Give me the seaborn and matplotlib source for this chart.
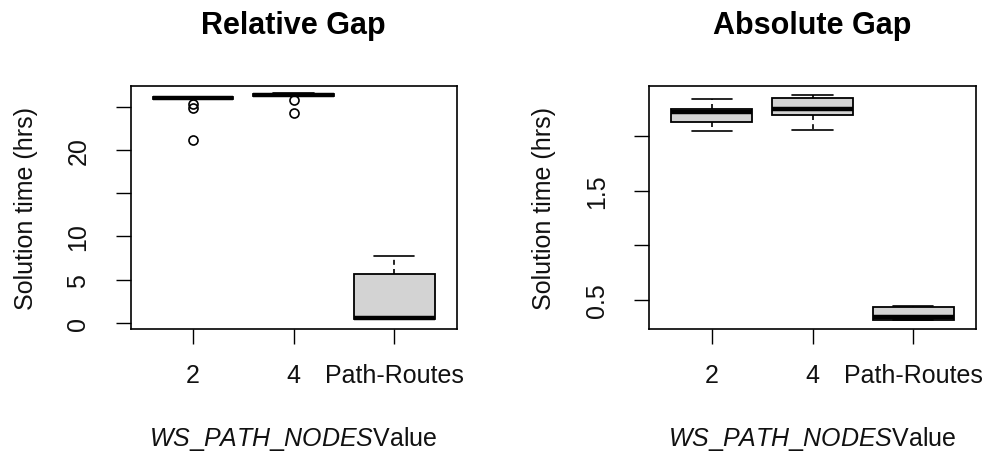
import matplotlib
matplotlib.use("Agg")
import matplotlib.pyplot as plt
import pandas as pd
import seaborn as sns

# Category order on the x axis
groups = ["2", "4", "Path-Routes"]

# Solution times (hrs) per WS_PATH_NODES setting, relative-gap stopping rule
rel_2 = [21.1, 24.9, 25.25, 25.85, 25.88, 25.92, 25.95, 26.0, 26.05, 26.1, 26.12, 26.14, 26.15]
rel_4 = [24.25, 25.75, 26.2, 26.2, 26.22, 26.26, 26.3, 26.34, 26.4, 26.45, 26.5, 26.55, 26.58]
rel_pr = [0.42, 0.44, 0.45, 0.45, 0.5, 0.58, 0.62, 1.8, 3.9, 5.7, 6.4, 7.1, 7.8]

# Solution times (hrs), absolute-gap stopping rule
abs_2 = [2.048, 2.07, 2.10, 2.13, 2.16, 2.20, 2.222, 2.23, 2.24, 2.252, 2.28, 2.31, 2.339]
abs_4 = [2.06, 2.10, 2.15, 2.192, 2.21, 2.235, 2.252, 2.28, 2.32, 2.353, 2.36, 2.37, 2.375]
abs_pr = [0.315, 0.316, 0.317, 0.318, 0.325, 0.33, 0.337, 0.36, 0.40, 0.436, 0.437, 0.437, 0.438]

rel_ticks = [0, 5, 10, 15, 20, 25]
rel_ticklabels = ["0", "5", "10", "", "20", ""]
abs_ticks = [0.5, 1.0, 1.5, 2.0]
abs_ticklabels = ["0.5", "", "1.5", ""]

sns.set_style("white")
plt.rcParams["font.family"] = ["Liberation Sans", "DejaVu Sans"]
plt.rcParams["mathtext.fontset"] = "custom"
plt.rcParams["mathtext.rm"] = "Liberation Sans"
plt.rcParams["mathtext.it"] = "Liberation Sans:italic"
plt.rcParams["text.color"] = "black"


def long_frame(series):
    rows = []
    for g, vals in zip(groups, series):
        rows += [(g, v) for v in vals]
    return pd.DataFrame(rows, columns=["group", "hours"])


W, H = 985, 452
fig = plt.figure(figsize=(W / 100, H / 100), dpi=100)
ax_rel = fig.add_axes([130.5 / W, (H - 330) / H, 326.2 / W, 243.3 / H])
ax_abs = fig.add_axes([649.3 / W, (H - 330) / H, 326.4 / W, 243.3 / H])

panels = [
    (ax_rel, long_frame([rel_2, rel_4, rel_pr]), "Relative Gap",
     (-0.69, 27.42), rel_ticks, rel_ticklabels),
    (ax_abs, long_frame([abs_2, abs_4, abs_pr]), "Absolute Gap",
     (0.231, 2.463), abs_ticks, abs_ticklabels),
]

for ax, df, title, ylim, yticks, ylabels in panels:
    sns.boxplot(
        data=df, x="group", y="hours", order=groups, ax=ax,
        color="#D3D3D3", saturation=1, linecolor="black", width=0.8, whis=1.5,
        boxprops=dict(facecolor="#D3D3D3", edgecolor="black", linewidth=1.3),
        medianprops=dict(color="black", linewidth=3.2, solid_capstyle="butt"),
        whiskerprops=dict(color="black", linewidth=1.2, linestyle=(0, (3, 2.5))),
        capprops=dict(color="black", linewidth=1.2),
        flierprops=dict(marker="o", markerfacecolor="none", markeredgecolor="black",
                        markersize=6.5, markeredgewidth=1.2),
    )
    ax.set_xlim(-0.62, 2.62)
    ax.set_ylim(*ylim)
    ax.set_yticks(yticks)
    ax.set_yticklabels(ylabels, rotation=90, va="center")
    ax.tick_params(axis="both", direction="out", length=10.8, width=1.0,
                   color="black", labelsize=18, labelcolor="#111111")
    ax.tick_params(axis="y", pad=18, left=True)
    ax.tick_params(axis="x", pad=14, bottom=True)
    for s in ax.spines.values():
        s.set_visible(True)
        s.set_color("black")
        s.set_linewidth(1.2)
    ax.set_title(title, fontsize=22, fontweight="bold", pad=38, color="black")
    ax.set_ylabel("Solution time (hrs)", fontsize=18, color="#111111")
    ax.yaxis.set_label_coords(-0.285, 0.5)
    ax.set_xlabel(r"$\mathit{WS\_PATH\_NODES}$Value", fontsize=18, color="#111111")
    ax.xaxis.set_label_coords(0.5, -0.39)

fig.savefig("out.png", dpi=100, facecolor="white")
